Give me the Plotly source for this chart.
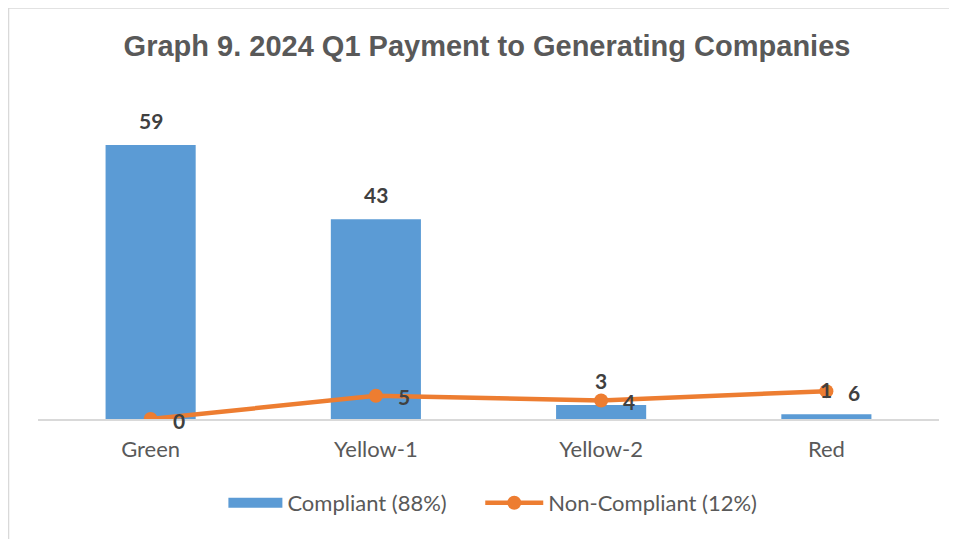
import plotly.graph_objects as go

categories = ["Green", "Yellow-1", "Yellow-2", "Red"]
compliant = [59, 43, 3, 1]
non_compliant = [0, 5, 4, 6]
title_text = "Graph 9. 2024 Q1 Payment to Generating Companies"
compliant_name = "Compliant (88%)"
non_compliant_name = "Non-Compliant (12%)"

BAR = "#5B9BD5"
LINE = "#ED7D31"
TXT = "#595959"
LBL = "#404040"
FONT = "Lato, Liberation Sans, sans-serif"

# page body has an 8px margin: figure coords = screen coords - 8
ML, MR, MT, MB = 29.5, 26, 86, 128
PW, PH = 957 - ML - MR, 539 - MT - MB

fig = go.Figure()
fig.add_trace(go.Bar(x=categories, y=compliant, name=compliant_name, showlegend=False,
                     marker=dict(color=BAR, line=dict(width=0)), width=0.4))
# legend entry for the bars (wide swatch)
fig.add_trace(go.Scatter(x=[None], y=[None], name=compliant_name, mode="lines",
                         line=dict(color=BAR, width=14), hoverinfo="skip", legend="legend"))
fig.add_trace(go.Scatter(x=categories, y=non_compliant, name=non_compliant_name,
                         mode="lines+markers",
                         line=dict(color=LINE, width=4.5),
                         marker=dict(color=LINE, size=14), legend="legend2"))

annotations = []
for c, v in zip(categories, compliant):
    annotations.append(dict(x=c, y=v, xref="x", yref="y", text=str(v), showarrow=False,
                            yanchor="middle", yshift=25,
                            font=dict(family=FONT, size=21, color=LBL, weight="bold")))
for c, v in zip(categories, non_compliant):
    annotations.append(dict(x=c, y=v, xref="x", yref="y", text=str(v), showarrow=False,
                            xanchor="center", yanchor="middle", xshift=28, yshift=-1,
                            font=dict(family=FONT, size=21, color=LBL, weight="bold")))

leg_common = dict(orientation="h", xanchor="left", y=(411 - 495) / PH, yanchor="middle",
                  font=dict(family=FONT, size=22, color=TXT), bgcolor="rgba(0,0,0,0)")

fig.update_layout(
    width=957, height=539,
    paper_bgcolor="white", plot_bgcolor="white",
    margin=dict(l=ML, r=MR, t=MT, b=MB),
    title=dict(text=title_text, x=479 / 957, xanchor="center", y=1 - 38 / 539, yanchor="middle",
               font=dict(family="Liberation Sans, Arial, sans-serif", size=29, color=TXT, weight="bold")),
    xaxis=dict(showgrid=False, showline=True, linecolor="#D9D9D9", linewidth=1.5,
               ticks="", ticklabelstandoff=10,
               tickfont=dict(family=FONT, size=22, color=TXT)),
    yaxis=dict(range=[0, 70], visible=False, showgrid=False, zeroline=False),
    legend=dict(x=(223 - 8 - ML) / PW, itemwidth=54, **leg_common),
    legend2=dict(x=(480 - 8 - ML) / PW, itemwidth=58, **leg_common),
    showlegend=True,
    annotations=annotations,
    shapes=[
        dict(type="line", xref="paper", yref="paper", x0=(0 - ML) / PW, x1=(957 - ML) / PW,
             y0=(411 - 0) / PH, y1=(411 - 0) / PH, line=dict(color="#D9D9D9", width=1.5)),
        dict(type="line", xref="paper", yref="paper", x0=(0 - ML) / PW, x1=(0 - ML) / PW,
             y0=(411 - 0) / PH, y1=(411 - 539) / PH, line=dict(color="#D9D9D9", width=1.5)),
    ],
)

fig.write_html("out.html")
